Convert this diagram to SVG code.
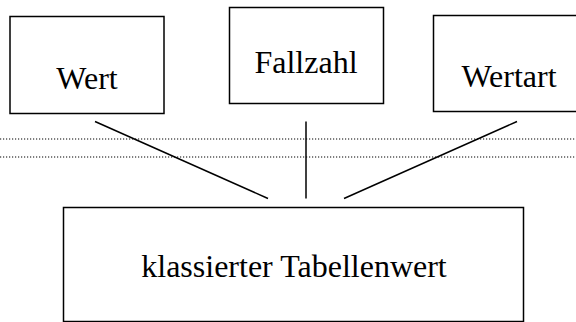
<svg xmlns="http://www.w3.org/2000/svg" width="576" height="322" viewBox="0 0 576 322">
  <style>
    .box { fill: #ffffff; stroke: #000000; stroke-width: 1.5; }
    .label { font-family: 'Liberation Serif', 'Times New Roman', serif; font-size: 32px; fill: #000000; text-anchor: middle; }
    .link { stroke: #000000; stroke-width: 1.5; fill: none; }
    .guide { stroke: #000000; stroke-width: 1.2; stroke-dasharray: 1.2 1.8; fill: none; }
  </style>
  <rect width="576" height="322" fill="#ffffff"/>

  <!-- dotted guide lines -->
  <g id="guides">
    <line class="guide" x1="0" y1="139" x2="576" y2="139"/>
    <line class="guide" x1="0" y1="157" x2="576" y2="157"/>
  </g>

  <g id="connectors">
    <line class="link" x1="95" y1="121.5" x2="268" y2="198.5"/>
    <line class="link" x1="306" y1="121.5" x2="306" y2="198.5"/>
    <line class="link" x1="517" y1="121.5" x2="344" y2="198.5"/>
  </g>

  <g id="wert">
    <rect class="box" x="10" y="16.5" width="154" height="97"/>
    <text class="label" x="87" y="89">Wert</text>
  </g>

  <g id="fallzahl">
    <rect class="box" x="229.5" y="7.5" width="154" height="96"/>
    <text class="label" x="306" y="73">Fallzahl</text>
  </g>

  <g id="wertart">
    <rect class="box" x="433.5" y="15.5" width="154" height="96"/>
    <text class="label" x="509" y="87">Wertart</text>
  </g>

  <g id="klassierter-tabellenwert">
    <rect class="box" x="63.5" y="207.5" width="460" height="114"/>
    <text class="label" x="294" y="277">klassierter Tabellenwert</text>
  </g>
</svg>
